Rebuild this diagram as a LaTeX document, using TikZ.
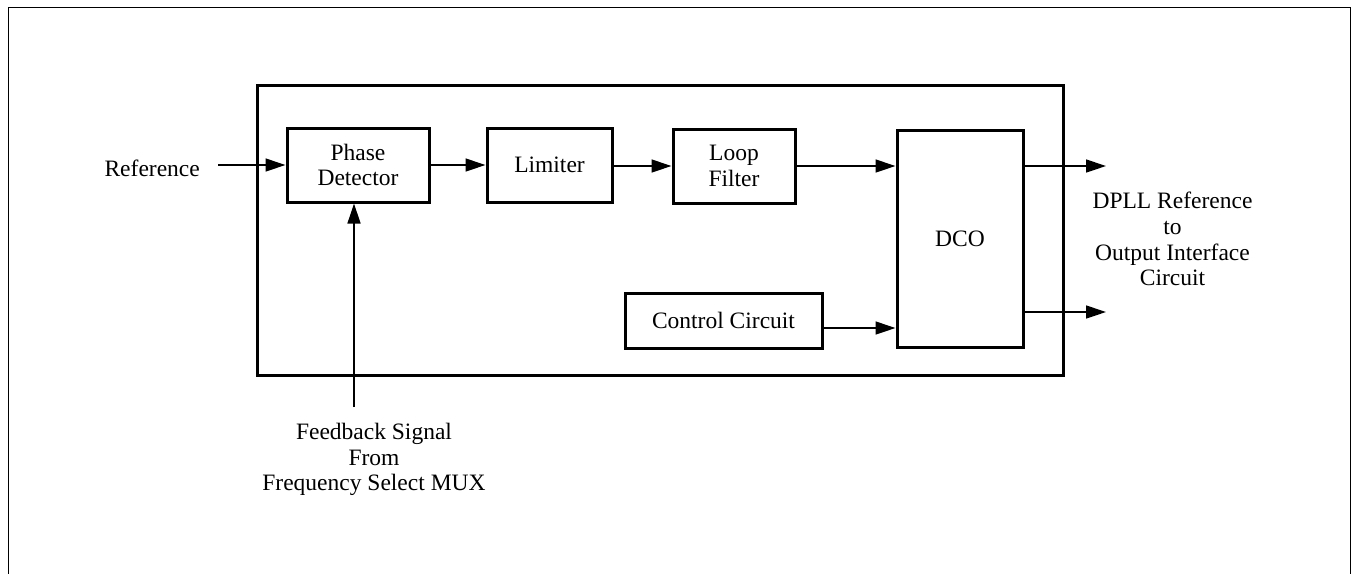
\documentclass[tikz,border=0pt]{standalone}
\usepackage{fontspec}
\setmainfont{Liberation Serif}
\usetikzlibrary{arrows.meta}
\begin{document}
\begin{tikzpicture}[x=1pt,y=-1pt,
  box/.style={draw,line width=3pt,inner sep=0pt,align=center},
  lbl/.style={inner sep=0pt,align=center},
  arr/.style={line width=1.3pt,-{Triangle[length=20pt,width=13pt]}},
  every node/.style={font=\fontsize{23.5}{25.7}\selectfont}]
\useasboundingbox (0,0) rectangle (1351,573);
% outer frame
\draw[line width=1.5pt] (8.5,590) -- (8.5,7.5) -- (1350.5,7.5) -- (1350.5,590);
% main box
\node[box,minimum width=806pt,minimum height=290pt] (main) at (660,230) {};
% blocks
\node[box,minimum width=142pt,minimum height=74pt] (pd) at (358,165) {Phase\\Detector};
\node[box,minimum width=125pt,minimum height=74pt] (lim) at (549.5,165) {Limiter};
\node[box,minimum width=122pt,minimum height=74pt] (lf) at (734,166) {Loop\\Filter};
\node[box,minimum width=126pt,minimum height=217pt] (dco) at (960,238.5) {DCO};
\node[box,minimum width=197pt,minimum height=55pt] (cc) at (723.5,320.5) {Control Circuit};
% labels
\node[lbl,anchor=base east] (ref) at (200,176) {Reference};
\node[lbl,anchor=north] (fbt) at (374,423) {Feedback Signal\\From\\Frequency Select MUX};
\node[lbl,anchor=north] (outt) at (1172.5,192) {DPLL Reference\\to\\Output Interface\\Circuit};
% coordinates
\coordinate (fb) at (354,407);
\coordinate (o1) at (1106,166);
\coordinate (o2) at (1106,312);
% connectors
\draw[arr] ([xshift=18pt]ref.east |- pd.west) -- (pd.west);
\draw[arr] (pd.east) -- (lim.west);
\draw[arr] (lf.west -| lim.east) -- (lf.west);
\draw[arr] (lf.east) -- (lf.east -| dco.west);
\draw[arr] (cc.east |- 0,328) -- (dco.west |- 0,328);
\draw[arr] (dco.east |- o1) -- (o1);
\draw[arr] (dco.east |- o2) -- (o2);
\draw[arr] (fb) -- (fb |- pd.south);
\end{tikzpicture}
\end{document}
